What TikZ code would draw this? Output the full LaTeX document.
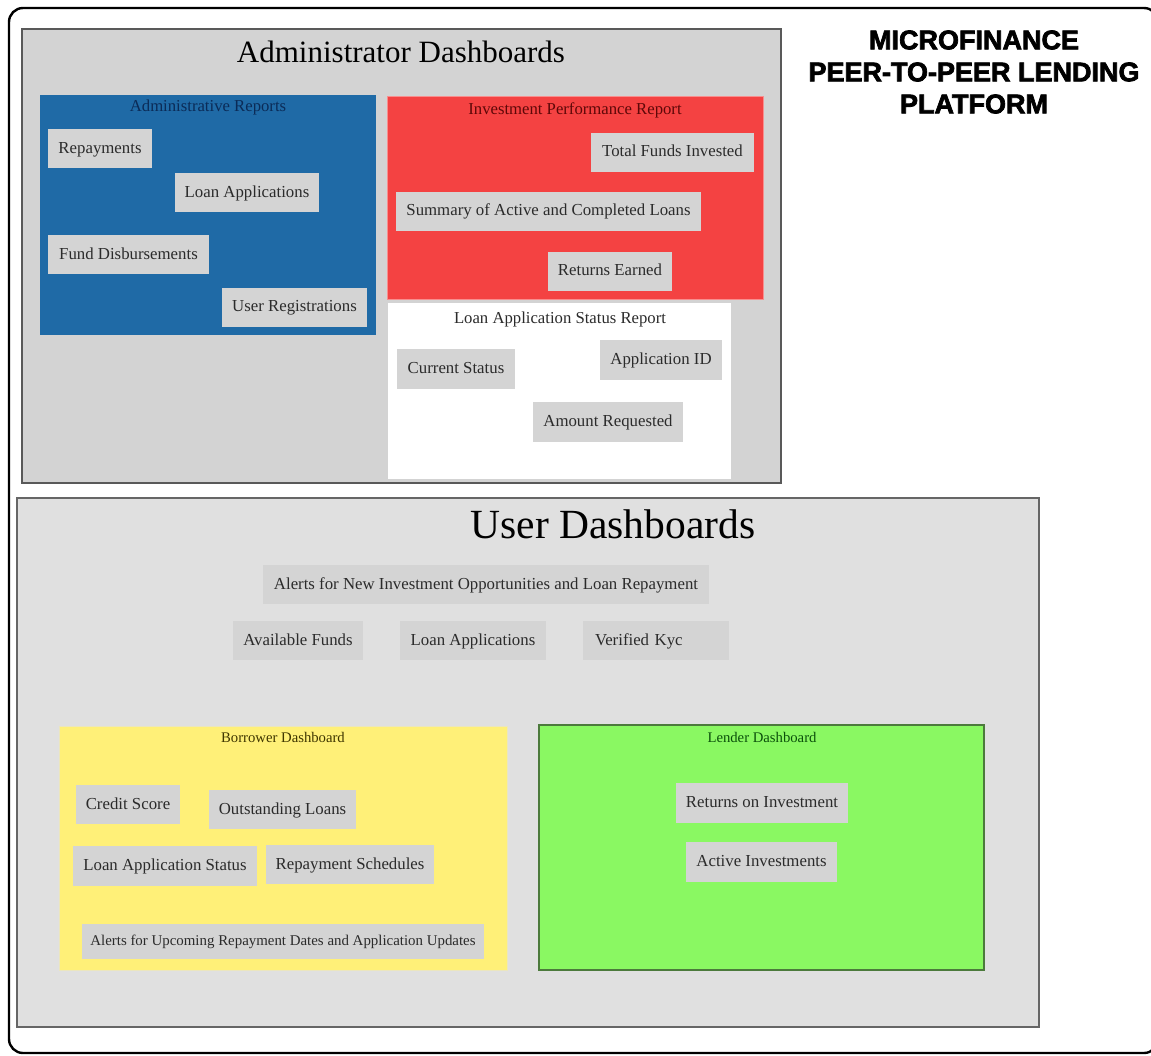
\documentclass[tikz,border=0pt]{standalone}
\usepackage{fontspec}
\setmainfont{Liberation Serif}
\newfontfamily\titlefont[FakeBold=2.6]{Liberation Sans Bold}
\usetikzlibrary{positioning}

\definecolor{admgray}{HTML}{D3D3D3}
\definecolor{usergray}{HTML}{E0E0E0}
\definecolor{itemgray}{HTML}{D4D4D4}
\definecolor{itemtext}{HTML}{2B2B2B}
\definecolor{repblue}{RGB}{31,106,166}
\definecolor{repnavy}{HTML}{0B2B57}
\definecolor{invred}{RGB}{244,66,66}
\definecolor{invdark}{HTML}{5E0808}
\definecolor{borryellow}{RGB}{255,240,120}
\definecolor{borrtext}{HTML}{3F3600}
\definecolor{lendgreen}{RGB}{138,248,98}
\definecolor{lendborder}{HTML}{4C7A3C}
\definecolor{lendtext}{HTML}{0B500B}

\tikzset{
  container/.style={rectangle, inner sep=0pt},
  item/.style={rectangle, fill=itemgray, text=itemtext, inner sep=0pt,
    minimum height=39pt, text height=11.6pt, text depth=2pt,
    font=\fontsize{16.8}{20}\selectfont},
  header/.style={inner sep=0pt, font=\fontsize{16.7}{20}\selectfont},
  subheader/.style={inner sep=0pt, font=\fontsize{14.7}{17}\selectfont},
  bigtitle/.style={inner sep=0pt, text=black}
}

\begin{document}
\begin{tikzpicture}[x=1pt,y=-1pt]
  \useasboundingbox (0,0) rectangle (1151,1055);
  \begin{scope}
    \clip (0,0) rectangle (1151,1055);
    % outer frame
    \draw[line width=2.4pt, rounded corners=14pt] (9,8) rectangle (1158,1053);
  \end{scope}

  % ---------- administrator area ----------
  \node[container, fill=admgray, draw=black!65, line width=1.2pt,
        minimum width=759pt, minimum height=454pt] (adm) at (401.5,256) {};
  \node[bigtitle, font=\fontsize{31}{36}\selectfont] (admtitle) at (401,52) {Administrator Dashboards};

  % administrative reports
  \node[container, fill=repblue, minimum width=336pt, minimum height=240pt] (rep) at (208,215) {};
  \node[header, text=repnavy] (reptitle) at (208,107) {Administrative Reports};
  \node[item, minimum width=104pt] (repay) at (100,148.5) {Repayments};
  \node[item, minimum width=144pt] (loanapp) at (247,192.5) {Loan Applications};
  \node[item, minimum width=161pt] (fund) at (128.5,254.5) {Fund Disbursements};
  \node[item, minimum width=145pt] (userreg) at (294.5,307) {User Registrations};

  % investment performance report
  \node[container, fill=invred, draw=invred!60!white, line width=0.8pt,
        minimum width=376pt, minimum height=203pt] (inv) at (575,197.5) {};
  \node[header, text=invdark] (invtitle) at (575,110) {Investment Performance Report};
  \node[item, minimum width=163pt] (total) at (672.5,152) {Total Funds Invested};
  \node[item, minimum width=305pt] (summary) at (548.5,211) {Summary of Active and Completed Loans};
  \node[item, minimum width=124pt] (returns) at (610,271) {Returns Earned};

  % loan application status report
  \node[container, fill=white, minimum width=343pt, minimum height=176pt] (las) at (559.5,391) {};
  \node[header, text=itemtext] (lastitle) at (560,319) {Loan Application Status Report};
  \node[item, minimum width=118pt, minimum height=40pt] (curstat) at (456,369) {Current Status};
  \node[item, minimum width=122pt, minimum height=40pt] (appid) at (661,360) {Application ID};
  \node[item, minimum width=150pt, minimum height=40pt] (amount) at (608,422) {Amount Requested};

  % platform title
  \node[align=center, inner sep=0pt, font=\titlefont\fontsize{27}{32}\selectfont]
    (platform) at (974,72) {MICROFINANCE\\PEER-TO-PEER LENDING\\PLATFORM};

  % ---------- user area ----------
  \node[container, fill=usergray, draw=black!60, line width=1.2pt,
        minimum width=1022pt, minimum height=529pt] (usr) at (528,762.5) {};
  \node[bigtitle, font=\fontsize{41.5}{46}\selectfont] (usrtitle) at (613,524) {User Dashboards};

  \node[item, minimum width=446pt] (alerts) at (486,584.5) {Alerts for New Investment Opportunities and Loan Repayment};
  \node[item, minimum width=130pt] (avail) at (298,640.5) {Available Funds};
  \node[item, minimum width=146pt] (uloan) at (473,640.5) {Loan Applications};
  \node[item, minimum width=146pt, text width=122pt, align=left, inner xsep=12pt] (kyc) at (656,640.5) {Verified Kyc};

  % borrower dashboard
  \node[container, fill=borryellow, draw=borryellow!80!black!40!white, line width=0.6pt,
        minimum width=448pt, minimum height=244pt] (borr) at (283,848) {};
  \node[subheader, text=borrtext] (borrtitle) at (283,737.5) {Borrower Dashboard};
  \node[item, minimum width=104pt] (credit) at (128,804.5) {Credit Score};
  \node[item, minimum width=147pt] (outst) at (282.5,809.5) {Outstanding Loans};
  \node[item, minimum width=184pt, minimum height=40pt] (lastat) at (165,866) {Loan Application Status};
  \node[item, minimum width=168pt] (sched) at (350,864.5) {Repayment Schedules};
  \node[item, minimum width=402pt, minimum height=35pt, text height=10.3pt, text depth=1.8pt,
        font=\fontsize{14.9}{17}\selectfont]
    (upcoming) at (283,941.5) {Alerts for Upcoming Repayment Dates and Application Updates};

  % lender dashboard
  \node[container, fill=lendgreen, draw=lendborder, line width=1.5pt,
        minimum width=445pt, minimum height=245pt] (lend) at (761.5,847.5) {};
  \node[subheader, text=lendtext] (lendtitle) at (762,737.5) {Lender Dashboard};
  \node[item, minimum width=172pt, minimum height=40pt] (roi) at (762,803) {Returns on Investment};
  \node[item, minimum width=151pt, minimum height=40pt] (active) at (761.5,862) {Active Investments};
\end{tikzpicture}
\end{document}
